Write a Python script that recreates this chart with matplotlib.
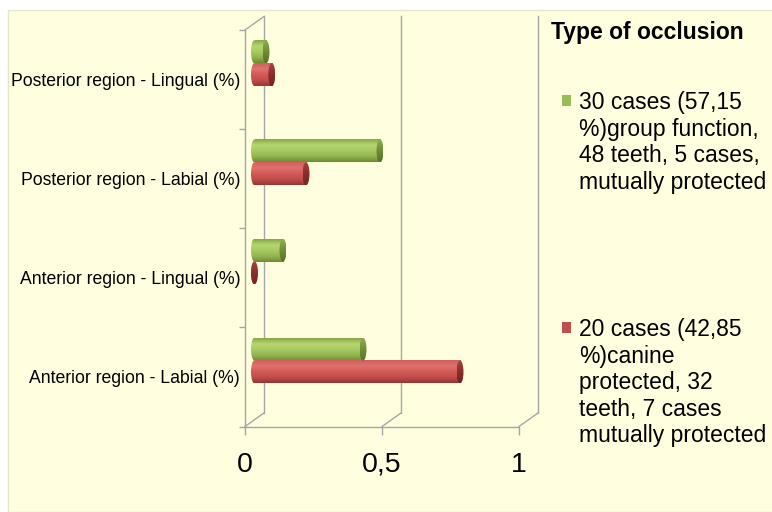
import numpy as np
import matplotlib
matplotlib.use('Agg')
import matplotlib.pyplot as plt
from matplotlib.patches import Rectangle, Ellipse
from matplotlib.colors import LinearSegmentedColormap

plt.rcParams['font.family'] = ['Liberation Sans', 'DejaVu Sans']

# データ（下から上の順）
categories = ['Anterior region - Labial (%)', 'Anterior region - Lingual (%)',
              'Posterior region - Labial (%)', 'Posterior region - Lingual (%)']
group_function = [0.396, 0.104, 0.458, 0.042]
canine_protected = [0.75, 0.0, 0.188, 0.063]
series_labels = ['30 cases (57,15\n%)group function,\n48 teeth, 5 cases,\nmutually protected',
                 '20 cases (42,85\n%)canine\nprotected, 32\nteeth, 7 cases\nmutually protected']
legend_title = 'Type of occlusion'
x_ticks = [0, 0.5, 1]
x_ticklabels = ['0', '0,5', '1']

W, H = 772, 512
BG = '#FFFFDF'
GRID = '#A6A6A6'

fig = plt.figure(figsize=(W / 100, H / 100), dpi=100)
fig.patch.set_facecolor('white')
fig.patches.append(Rectangle((8 / W, 0), 1, (H - 10) / H, transform=fig.transFigure,
                             facecolor=BG, edgecolor='#E6E6CF', lw=1, zorder=-10))

ax = fig.add_axes([245 / W, (H - 426.5) / H, 274 / W, 396.5 / H])
ax.set_facecolor('none')

# 奥行きのずれ（データ単位）
dx = 19 / 274
dy = 13.5 / 99
bar_x0 = 9.5 / 274
cap_w = 7 / 274
bar_h = 0.232

# 奥の壁の目盛線と斜めの線
for xv in x_ticks:
    ax.plot([xv + dx, xv + dx], [-0.5 + dy, 3.5 + dy], color=GRID, lw=1, clip_on=False, zorder=1)
    ax.plot([xv, xv + dx], [-0.5, -0.5 + dy], color=GRID, lw=1, clip_on=False, zorder=1)
ax.plot([0, dx], [3.5, 3.5 + dy], color=GRID, lw=1, clip_on=False, zorder=1)

green_cm = LinearSegmentedColormap.from_list(
    'g', ['#86A845', '#B5D66E', '#A8CA62', '#93B550', '#6E8B33'])
green_cap = LinearSegmentedColormap.from_list('gc', ['#8FAE4C', '#6F8D35', '#58722A'])
red_cm = LinearSegmentedColormap.from_list(
    'r', ['#D0605C', '#E0716D', '#D25A57', '#C24D4A', '#983634'])
red_cap = LinearSegmentedColormap.from_list('rc', ['#A84340', '#8A2E2C', '#732423'])

grad = np.linspace(0, 1, 80).reshape(-1, 1)


def cylinder(y, val, cmap, capmap):
    y0, y1 = y - bar_h / 2, y + bar_h / 2
    start = Ellipse((bar_x0, y), cap_w, bar_h, facecolor='none', edgecolor='none')
    ax.add_patch(start)
    im = ax.imshow(grad, cmap=cmap, aspect='auto', origin='upper', zorder=3,
                   extent=[bar_x0 - cap_w / 2, bar_x0 + 0.0001, y0, y1])
    im.set_clip_path(start)
    if val > 0:
        ax.imshow(grad, cmap=cmap, aspect='auto', origin='upper', zorder=3,
                  extent=[bar_x0, bar_x0 + val, y0, y1])
    cap = Ellipse((bar_x0 + val, y), cap_w, bar_h, facecolor='none', edgecolor='none')
    ax.add_patch(cap)
    im2 = ax.imshow(grad, cmap=capmap, aspect='auto', origin='upper', zorder=4,
                    extent=[bar_x0 + val - cap_w / 2, bar_x0 + val + cap_w / 2, y0, y1])
    im2.set_clip_path(cap)


for i in range(len(categories)):
    cylinder(i + 0.28, group_function[i], green_cm, green_cap)
    cylinder(i + 0.05, canine_protected[i], red_cm, red_cap)

ax.set_xlim(0, 1)
ax.set_ylim(-0.5, 3.5)

for s in ['top', 'right']:
    ax.spines[s].set_visible(False)
for s in ['left', 'bottom']:
    ax.spines[s].set_color(GRID)
    ax.spines[s].set_linewidth(1)

ax.set_xticks(x_ticks)
ax.set_xticklabels(x_ticklabels, fontsize=20.5)
ax.tick_params(axis='x', length=6, width=1, color=GRID, pad=12)

ax.set_yticks(np.arange(-0.5, 4, 1))
ax.set_yticklabels([])
ax.set_yticks(np.arange(len(categories)), minor=True)
ax.set_yticklabels(categories, minor=True, fontsize=12.7)
ax.tick_params(axis='y', which='major', length=4, width=1, color=GRID)
ax.tick_params(axis='y', which='minor', length=0, pad=3.5)

# 凡例
fig.text(551 / W, 1 - 33 / H, legend_title, fontsize=16.5, fontweight='bold', va='center')
leg_colors = ['#9BBB59', '#C0504D']
leg_top = [91, 318]
for lab, c, yt in zip(series_labels, leg_colors, leg_top):
    fig.patches.append(Rectangle((562 / W, 1 - (yt + 15) / H), 9 / W, 11 / H,
                                 transform=fig.transFigure, facecolor=c, edgecolor='none'))
    fig.text(579 / W, 1 - yt / H, lab, fontsize=16.5, va='top', ha='left', linespacing=1.2)

fig.savefig('out.png', dpi=100, facecolor=fig.get_facecolor())
